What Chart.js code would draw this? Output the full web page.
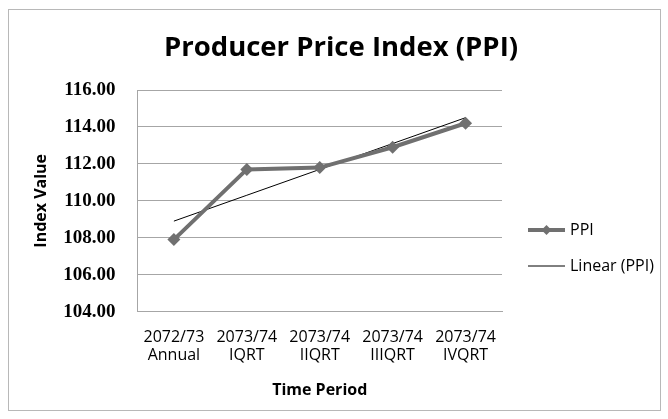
<!DOCTYPE html>
<html>
<head>
<meta charset="utf-8">
<script src="https://cdn.jsdelivr.net/npm/chart.js@4/dist/chart.umd.min.js"></script>
<style>
  html, body { margin: 0; padding: 0; background: #fff; }
  #wrap { position: relative; width: 668px; height: 419px; }
  #frame { position: absolute; left: 8px; top: 9px; width: 651px; height: 400px; border: 1px solid #b8b8b8; }
  canvas { position: absolute; left: 0; top: 0; }
</style>
</head>
<body>
<div id="wrap">
  <div id="frame"></div>
  <canvas id="ppiChart" width="668" height="419"></canvas>
</div>
<script>
// ── Data ─────────────────────────────────────────────────────────────────────
const PERIOD_LABELS = [
  ['2072/73', 'Annual'],
  ['2073/74', 'IQRT'],
  ['2073/74', 'IIQRT'],
  ['2073/74', 'IIIQRT'],
  ['2073/74', 'IVQRT'],
];
const PPI_VALUES   = [107.9, 111.7, 111.8, 112.9, 114.2];
const TREND_VALUES = [108.9, 110.3, 111.7, 113.1, 114.5];
const Y_MIN = 104;
const Y_MAX = 116;
const Y_STEP = 2;

const LINE_GREY = '#707070';
const GRID_GREY = '#a6a6a6';
const SANS = '"Open Sans", sans-serif';
const LEGEND_W = 148;

// ── Legend on the right ──────────────────────────────────────────────────────
// Registers its own layout box so the title stays centred over the whole chart
// (like Excel), then draws line + marker glyphs next to the plot.
const sideLegend = {
  id: 'sideLegend',
  start(chart) {
    Chart.layouts.addBox(chart, {
      position: 'right',
      weight: 1000,
      fullSize: false,
      options: {},
      left: 0, top: 0, right: 0, bottom: 0, width: 0, height: 0,
      isHorizontal: () => false,
      update(maxWidth, maxHeight) { this.width = LEGEND_W; this.height = maxHeight; },
      draw() {},
    });
  },
  afterDraw(chart) {
    const { ctx, chartArea } = chart;
    const x0 = chartArea.right + 26;
    const lineW = 37;
    ctx.save();
    ctx.font = `16px ${SANS}`;
    ctx.textBaseline = 'middle';
    chart.data.datasets.forEach((ds, i) => {
      const y = chartArea.top + 140 + i * 36;
      ctx.strokeStyle = ds.borderColor;
      ctx.lineWidth = ds.borderWidth;
      ctx.beginPath();
      ctx.moveTo(x0, y);
      ctx.lineTo(x0 + lineW, y);
      ctx.stroke();
      if (ds.pointRadius > 0) {
        const r = 5;
        const cx = x0 + lineW / 2;
        ctx.fillStyle = ds.backgroundColor;
        ctx.beginPath();
        ctx.moveTo(cx, y - r); ctx.lineTo(cx + r, y); ctx.lineTo(cx, y + r); ctx.lineTo(cx - r, y);
        ctx.closePath();
        ctx.fill();
      }
      ctx.fillStyle = '#000';
      ctx.fillText(ds.label, x0 + lineW + 5, y);
    });
    ctx.restore();
  },
};

// ── Chart ────────────────────────────────────────────────────────────────────
new Chart(document.getElementById('ppiChart').getContext('2d'), {
  type: 'line',
  data: {
    labels: PERIOD_LABELS,
    datasets: [
      {
        label: 'PPI',
        data: PPI_VALUES,
        borderColor: LINE_GREY,
        backgroundColor: LINE_GREY,
        borderWidth: 4,
        pointStyle: 'rectRot',
        pointRadius: 6.5,
        pointBorderWidth: 0,
        tension: 0,
      },
      {
        label: 'Linear (PPI)',
        data: TREND_VALUES,
        borderColor: '#000',
        borderWidth: 1,
        pointRadius: 0,
        tension: 0,
      },
    ],
  },
  plugins: [sideLegend],
  options: {
    responsive: false,
    animation: false,
    layout: { padding: { left: 32, right: 18, top: 14, bottom: 15 } },
    plugins: {
      title: {
        display: true,
        text: 'Producer Price Index (PPI)',
        color: '#000',
        font: { family: SANS, size: 27.5, weight: 'bold' },
        padding: { top: 18, bottom: 25 },
      },
      legend: { display: false },
      tooltip: { enabled: false },
    },
    scales: {
      x: {
        offset: true,
        grid: { display: false, drawTicks: false },
        border: { color: GRID_GREY },
        ticks: {
          color: '#000',
          font: { family: SANS, size: 16, lineHeight: 1.1 },
          padding: 17,
          maxRotation: 0,
          autoSkip: false,
        },
        title: {
          display: true,
          text: 'Time Period',
          color: '#000',
          font: { family: SANS, size: 16, weight: 'bold' },
          padding: { top: 0 },
        },
      },
      y: {
        min: Y_MIN,
        max: Y_MAX,
        grid: { color: GRID_GREY, drawTicks: false },
        border: { color: GRID_GREY },
        ticks: {
          stepSize: Y_STEP,
          color: '#000',
          font: { family: '"Liberation Serif", serif', size: 19, weight: 'bold' },
          padding: 22,
          callback: v => v.toFixed(2),
        },
        title: {
          display: true,
          text: 'Index Value',
          color: '#000',
          font: { family: SANS, size: 16, weight: 'bold' },
          padding: { top: 0, bottom: -10 },
        },
      },
    },
  },
});
</script>
</body>
</html>
